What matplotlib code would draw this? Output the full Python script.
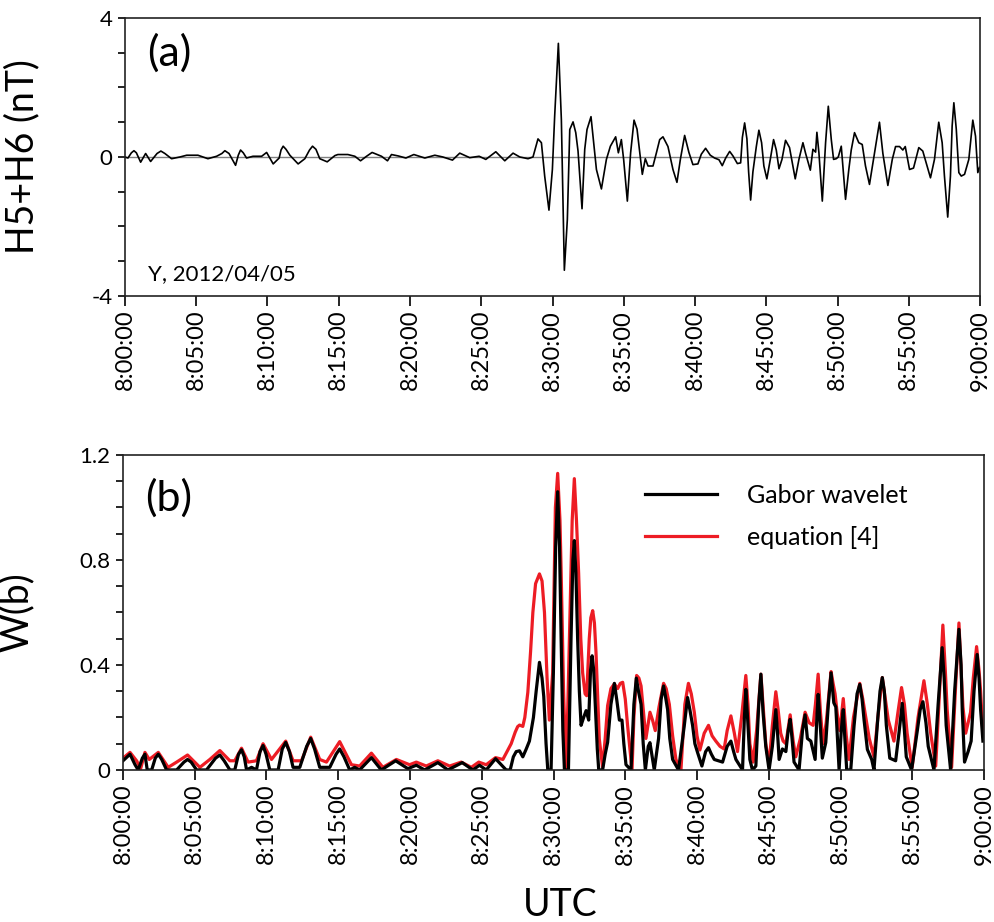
import numpy as np
import matplotlib.pyplot as plt

plt.rcParams['font.family'] = ['Lato', 'DejaVu Sans']

# panel (a): H5+H6, Y component, 2012/04/05 (minutes after 8:00, nT)
t_a = [0.0, 0.21, 0.45, 0.63, 0.8, 1.10, 1.45, 1.80, 2.25, 2.52, 2.8, 3.27, 3.86, 4.33, 5.12,
       5.82, 6.43, 6.8, 7.01, 7.3, 7.76, 7.95, 8.11, 8.3, 8.53, 8.98, 9.59, 9.94, 10.40,
       10.82, 10.95, 11.10, 11.3, 11.57, 12.15, 12.62, 12.95, 13.16, 13.4, 13.67, 14.19,
       14.73, 14.94, 15.64, 16.13, 16.53, 16.95, 17.34, 18.00, 18.42, 18.70, 19.17, 19.71,
       20.27, 21.04, 21.74, 22.30, 22.98, 23.49, 24.19, 24.85, 25.32, 26.02, 26.65, 27.23,
       27.70, 28.28, 28.63, 28.98, 29.22, 29.45, 29.75, 29.99, 30.15, 30.41, 30.62, 30.83,
       31.04, 31.21, 31.44, 31.63, 31.79, 32.07, 32.26, 32.42, 32.70, 32.84, 33.08, 33.43,
       33.78, 34.06, 34.43, 34.62, 34.83, 34.99, 35.25, 35.48, 35.72, 35.93, 36.12, 36.30,
       36.51, 36.70, 37.05, 37.29, 37.52, 37.75, 38.10, 38.45, 38.73, 38.97, 39.27, 39.57,
       39.85, 40.20, 40.44, 40.74, 41.07, 41.37, 41.68, 41.91, 42.15, 42.43, 42.66, 42.97,
       43.20, 43.32, 43.48, 43.64, 43.76, 43.90, 44.06, 44.30, 44.48, 44.67, 44.83, 45.04,
       45.28, 45.51, 45.70, 45.89, 46.10, 46.35, 46.63, 47.03, 47.29, 47.57, 47.76, 48.09,
       48.27, 48.46, 48.55, 48.69, 48.93, 49.16, 49.35, 49.56, 49.72, 49.91, 50.05, 50.26,
       50.37, 50.56, 50.79, 50.96, 51.19, 51.49, 51.73, 51.96, 52.24, 52.52, 52.94, 53.18,
       53.53, 53.84, 54.07, 54.35, 54.58, 54.75, 55.05, 55.33, 55.70, 55.98, 56.52, 56.80,
       57.10, 57.34, 57.50, 57.73, 57.92, 58.04, 58.16, 58.33, 58.51, 58.68, 58.91, 59.21,
       59.49, 59.68, 59.84, 59.96]
h56 = [0.0, -0.03, 0.12, 0.18, 0.12, -0.15, 0.10, -0.13, 0.10, 0.17, 0.10, -0.05, 0.0, 0.05,
       0.05, -0.05, 0.02, 0.10, 0.18, 0.10, -0.24, 0.05, 0.20, 0.12, -0.03, 0.02, 0.02, 0.13,
       -0.20, -0.03, 0.20, 0.31, 0.22, 0.05, -0.20, -0.05, 0.20, 0.31, 0.22, -0.05, -0.14,
       0.04, 0.07, 0.07, 0.02, -0.11, 0.02, 0.13, 0.02, -0.11, 0.07, 0.03, -0.03,
       0.07, -0.03, 0.05, 0.0, -0.09, 0.11, -0.02, 0.02, -0.07, 0.15, -0.11, 0.11,
       0.0, -0.05, 0.0, 0.52, 0.41, -0.55, -1.53, -0.36, 1.17, 3.27, 1.08, -3.26,
       -1.80, 0.79, 1.01, 0.70, 0.17, -1.49, 0.22, 0.79, 1.16, 0.60, -0.36, -0.92,
       -0.07, 0.31, 0.58, 0.12, 0.50, -0.07, -1.27, 0.12, 1.06, 0.80, 0.12, -0.50,
       -0.05, -0.26, -0.26, 0.12, 0.50, 0.58, 0.30, -0.36, -0.73, -0.07, 0.62, 0.13,
       -0.22, -0.20, 0.08, 0.25, 0.05, -0.03, -0.08, -0.25, -0.03, 0.16, 0.03, -0.19,
       -0.17, 0.56, 0.98, 0.52, -0.43, -1.24, -0.43, 0.30, 0.77, 0.41, -0.26, -0.63,
       -0.07, 0.50, 0.20, -0.34, -0.07, 0.48, 0.27, -0.63, -0.07, 0.41, 0.10, -0.38,
       0.22, 0.14, 0.71, 0.13, -1.27, 0.41, 1.46, 0.50, -0.07, -0.05, 0.0, 0.31,
       -0.26, -1.22, -0.36, 0.20, 0.70, 0.41, 0.36, -0.26, -0.79, -0.07, 1.00, 0.10,
       -0.82, -0.07, 0.30, 0.30, 0.20, 0.30, -0.36, -0.32, 0.27, 0.17, -0.60, -0.07,
       1.00, 0.41, -0.55, -1.73, -0.55, 0.89, 1.56, 0.80, -0.45, -0.55, -0.50, -0.07,
       1.06, 0.60, -0.45, -0.30]

# panel (b): W(b), Gabor wavelet
t_gabor = [0.0, 0.49, 0.84, 1.06, 1.35, 1.53, 1.69, 2.00, 2.25, 2.46, 2.7, 3.04, 3.74, 4.25,
           4.50, 4.75, 5.13, 5.82, 6.45, 6.75, 7.05, 7.45, 7.79, 8.05, 8.26, 8.45, 8.61, 8.96,
           9.30, 9.55, 9.76, 9.97, 10.23, 10.81, 11.1, 11.34, 11.6, 11.85, 12.32, 12.8, 13.08,
           13.35, 13.71, 14.41, 14.85, 15.10, 15.4, 15.80, 16.14, 16.49, 17.31, 18.00, 19.00,
           19.85, 20.44, 21.02, 21.94, 22.64, 23.64, 24.38, 24.84, 25.31, 25.96, 26.70, 26.98,
           27.2, 27.40, 27.63, 27.86, 28.1, 28.32, 28.6, 28.79, 29.02, 29.2, 29.32, 29.48,
           29.60, 29.83, 29.99, 30.15, 30.29, 30.42, 30.53, 30.65, 30.76, 31.04, 31.22, 31.35,
           31.45, 31.56, 31.68, 31.8, 31.92, 32.1, 32.27, 32.45, 32.58, 32.69, 32.8, 32.92,
           33.05, 33.15, 33.42, 33.6, 33.77, 34.0, 34.24, 34.4, 34.59, 34.77, 34.9, 35.05,
           35.40, 35.6, 35.77, 35.92, 36.10, 36.25, 36.40, 36.6, 36.72, 36.85, 37.02, 37.32,
           37.5, 37.67, 37.8, 37.95, 38.1, 38.30, 38.71, 39.11, 39.34, 39.5, 39.69, 39.85,
           40.04, 40.34, 40.6, 40.80, 41.0, 41.20, 41.78, 42.1, 42.36, 42.55, 42.71, 43.17,
           43.3, 43.40, 43.52, 43.68, 43.86, 44.10, 44.3, 44.45, 44.6, 44.79, 45.02, 45.25,
           45.49, 45.6, 45.72, 45.95, 46.19, 46.35, 46.49, 46.62, 46.76, 47.11, 47.35, 47.53,
           47.69, 47.93, 48.23, 48.35, 48.44, 48.55, 48.73, 48.97, 49.15, 49.34, 49.53, 49.67,
           49.90, 50.05, 50.19, 50.3, 50.43, 50.71, 50.94, 51.15, 51.34, 51.5, 51.64, 51.87,
           52.17, 52.33, 52.6, 52.75, 52.91, 53.05, 53.19, 53.43, 53.84, 54.07, 54.30, 54.45,
           54.58, 54.95, 55.35, 55.55, 55.74, 55.95, 56.11, 56.51, 56.8, 57.08, 57.22, 57.36,
           57.67, 57.95, 58.25, 58.4, 58.48, 58.64, 58.89, 59.1, 59.3, 59.52, 59.65, 59.76,
           59.92]
w_gabor = [0.035, 0.06, 0.02, 0.0, 0.045, 0.06, 0.0, 0.0, 0.045, 0.06, 0.04, 0.0, 0.0, 0.03,
           0.04, 0.03, 0.0, 0.0, 0.045, 0.057, 0.035, 0.0, 0.0, 0.06, 0.077, 0.05, 0.0, 0.01,
           0.0, 0.07, 0.093, 0.06, 0.0, 0.0, 0.08, 0.105, 0.07, 0.01, 0.01, 0.09, 0.12,
           0.08, 0.01, 0.01, 0.06, 0.08, 0.05, 0.0, 0.01, 0.0, 0.047, 0.0, 0.035,
           0.005, 0.018, 0.0, 0.028, 0.0, 0.028, 0.0, 0.018, 0.0, 0.043, 0.0, 0.0,
           0.05, 0.07, 0.073, 0.05, 0.08, 0.11, 0.2, 0.30, 0.41, 0.35, 0.28, 0.10,
           0.0, 0.0, 0.37, 0.85, 1.06, 0.85, 0.50, 0.15, 0.0, 0.0, 0.50, 0.80,
           0.874, 0.75, 0.50, 0.30, 0.17, 0.20, 0.226, 0.19, 0.38, 0.435, 0.38, 0.24,
           0.08, 0.0, 0.0, 0.06, 0.105, 0.25, 0.33, 0.27, 0.19, 0.19, 0.10, 0.02,
           0.0, 0.25, 0.35, 0.30, 0.25, 0.10, 0.0, 0.09, 0.104, 0.06, 0.0, 0.12,
           0.27, 0.32, 0.28, 0.23, 0.12, 0.04, 0.0, 0.168, 0.276, 0.23, 0.17, 0.10,
           0.066, 0.015, 0.07, 0.085, 0.06, 0.04, 0.03, 0.09, 0.11, 0.07, 0.04, 0.0,
           0.20, 0.307, 0.20, 0.04, 0.0, 0.015, 0.25, 0.365, 0.22, 0.09, 0.0, 0.09,
           0.23, 0.15, 0.04, 0.08, 0.07, 0.15, 0.193, 0.12, 0.03, 0.0, 0.15, 0.21,
           0.12, 0.11, 0.04, 0.20, 0.288, 0.20, 0.045, 0.104, 0.25, 0.37, 0.256, 0.24,
           0.0, 0.15, 0.23, 0.12, 0.0, 0.0, 0.167, 0.29, 0.326, 0.27, 0.19, 0.078,
           0.04, 0.0, 0.20, 0.30, 0.352, 0.30, 0.17, 0.045, 0.035, 0.14, 0.254, 0.15,
           0.05, 0.0, 0.15, 0.23, 0.26, 0.18, 0.09, 0.0, 0.25, 0.466, 0.35, 0.17,
           0.0, 0.30, 0.536, 0.40, 0.23, 0.03, 0.07, 0.11, 0.30, 0.44, 0.35, 0.23,
           0.11]

# panel (b): W(b), equation [4]
t_eq4 = [0.0, 0.49, 0.95, 1.23, 1.53, 1.83, 2.46, 3.15, 3.74, 4.50, 5.36, 6.05, 6.75, 7.45,
         7.79, 8.26, 8.72, 9.30, 9.76, 10.35, 11.34, 11.85, 12.44, 13.08, 13.71, 14.18, 15.10,
         15.92, 16.49, 17.31, 18.11, 19.05, 19.97, 20.44, 21.13, 21.94, 22.76, 23.57, 24.27,
         24.79, 25.31, 25.96, 26.47, 27.05, 27.33, 27.5, 27.63, 27.86, 28.0, 28.21, 28.4,
         28.56, 28.75, 29.02, 29.2, 29.37, 29.55, 29.71, 29.94, 30.13, 30.29, 30.45, 30.53,
         30.7, 30.88, 31.0, 31.16, 31.3, 31.45, 31.6, 31.75, 31.9, 32.03, 32.2, 32.31, 32.49,
         32.6, 32.73, 32.85, 32.96, 33.19, 33.42, 33.6, 33.77, 34.0, 34.24, 34.47, 34.65,
         34.82, 35.0, 35.16, 35.47, 35.6, 35.79, 35.95, 36.10, 36.3, 36.44, 36.58, 36.72,
         36.9, 37.09, 37.35, 37.67, 37.85, 38.07, 38.3, 38.53, 38.88, 39.15, 39.40, 39.6,
         39.81, 40.0, 40.20, 40.5, 40.80, 41.05, 41.31, 41.6, 41.89, 42.1, 42.36, 42.6, 42.82,
         43.1, 43.40, 43.55, 43.68, 43.91, 44.15, 44.45, 44.6, 44.79, 45.02, 45.25, 45.49,
         45.65, 45.83, 46.0, 46.19, 46.49, 46.7, 46.88, 47.2, 47.53, 47.81, 48.09, 48.25,
         48.44, 48.6, 48.78, 49.0, 49.34, 49.48, 49.62, 49.8, 49.95, 50.19, 50.4, 50.59, 50.9,
         51.34, 51.55, 51.76, 52.0, 52.33, 52.6, 52.91, 53.1, 53.33, 53.72, 54.0, 54.25,
         54.45, 54.64, 54.99, 55.4, 55.81, 56.05, 56.28, 56.63, 56.9, 57.13, 57.3, 57.43,
         57.74, 58.0, 58.25, 58.4, 58.53, 58.72, 59.06, 59.25, 59.48, 59.65, 59.76, 59.92]
w_eq4 = [0.045, 0.067, 0.035, 0.005, 0.067, 0.04, 0.067, 0.01, 0.03, 0.057, 0.01, 0.04, 0.074,
         0.035, 0.035, 0.083, 0.03, 0.035, 0.10, 0.04, 0.11, 0.035, 0.035, 0.125, 0.04, 0.03,
         0.108, 0.02, 0.015, 0.064, 0.01, 0.04, 0.02, 0.03, 0.015, 0.035, 0.015, 0.03, 0.01,
         0.03, 0.02, 0.047, 0.04, 0.10, 0.144, 0.165, 0.171, 0.166, 0.20, 0.296, 0.45,
         0.60, 0.71, 0.747, 0.72, 0.60, 0.35, 0.19, 0.37, 1.00, 1.13, 0.95, 0.76,
         0.30, 0.0, 0.25, 0.63, 0.95, 1.11, 0.95, 0.75, 0.50, 0.37, 0.29, 0.283, 0.50,
         0.58, 0.607, 0.56, 0.448, 0.118, 0.01, 0.12, 0.245, 0.31, 0.328, 0.31, 0.33,
         0.334, 0.27, 0.17, 0.0, 0.20, 0.36, 0.35, 0.32, 0.20, 0.12, 0.17, 0.22,
         0.19, 0.15, 0.24, 0.33, 0.31, 0.25, 0.13, 0.04, 0.0, 0.25, 0.33, 0.29,
         0.22, 0.13, 0.076, 0.14, 0.17, 0.13, 0.11, 0.09, 0.08, 0.15, 0.206, 0.14, 0.07,
         0.20, 0.36, 0.25, 0.10, 0.03, 0.15, 0.365, 0.25, 0.10, 0.02, 0.17, 0.298,
         0.23, 0.14, 0.11, 0.10, 0.21, 0.11, 0.05, 0.12, 0.22, 0.18, 0.17, 0.25,
         0.365, 0.22, 0.10, 0.18, 0.375, 0.33, 0.29, 0.20, 0.15, 0.272, 0.13, 0.04, 0.20,
         0.33, 0.27, 0.20, 0.12, 0.05, 0.20, 0.352, 0.28, 0.19, 0.11, 0.22, 0.314,
         0.25, 0.14, 0.01, 0.20, 0.34, 0.25, 0.14, 0.015, 0.30, 0.552, 0.38, 0.23,
         0.01, 0.30, 0.56, 0.38, 0.24, 0.14, 0.22, 0.35, 0.47, 0.38, 0.30, 0.14]

time_ticks = list(range(0, 61, 5))
time_labels = ['8:%02d:00' % m for m in range(0, 60, 5)] + ['9:00:00']

fig = plt.figure(figsize=(9.95, 9.22), dpi=100)
ax1 = fig.add_axes([0.1256, 0.679, 0.8594, 0.3015])
ax2 = fig.add_axes([0.1236, 0.1649, 0.8654, 0.3416])

# --- (a)
ax1.axhline(0, color='#808080', lw=1.0, zorder=1)
ax1.plot(t_a, h56, color='black', lw=1.2, zorder=2)
ax1.set_xlim(0, 60)
ax1.set_ylim(-4, 4)
ax1.set_yticks([-4, 0, 4])
ax1.set_yticklabels(['-4', '0', '4'])
ax1.set_yticks(np.arange(-4, 5, 1), minor=True)
ax1.set_ylabel('H5+H6 (nT)', fontsize=27)
ax1.yaxis.set_label_coords(-0.099, 0.5)
ax1.text(0.026, 0.875, '(a)', transform=ax1.transAxes, fontsize=31, va='center')
ax1.text(0.027, 0.08, 'Y, 2012/04/05', transform=ax1.transAxes, fontsize=16, va='center')

# --- (b)
ax2.plot(t_eq4, w_eq4, color='#ed1c24', lw=2.3, label='equation [4]')
ax2.plot(t_gabor, w_gabor, color='black', lw=2.3, label='Gabor wavelet')
ax2.set_xlim(0, 60)
ax2.set_ylim(0, 1.2)
ax2.set_yticks([0, 0.4, 0.8, 1.2])
ax2.set_yticklabels(['0', '0.4', '0.8', '1.2'])
ax2.set_yticks(np.arange(0, 1.25, 0.1), minor=True)
ax2.set_ylabel('W(b)', fontsize=27)
ax2.yaxis.set_label_coords(-0.102, 0.5)
ax2.text(0.026, 0.865, '(b)', transform=ax2.transAxes, fontsize=31, va='center')
h, l = ax2.get_legend_handles_labels()
ax2.legend(h[::-1], l[::-1], loc='upper left', bbox_to_anchor=(0.58, 0.98), frameon=False,
           fontsize=18, handlelength=2.9, handletextpad=1.2, labelspacing=0.75)
fig.text(560 / 995, 1 - 905 / 922, 'UTC', fontsize=27, ha='center', va='center')

for ax in (ax1, ax2):
    ax.set_xticks(time_ticks)
    ax.set_xticklabels(time_labels, rotation=90)
    ax.tick_params(which='both', direction='out', length=5, width=1.2, labelsize=16, pad=4)
    ax.tick_params(axis='x', length=7, labelsize=17, pad=3)
    for s in ax.spines.values():
        s.set_linewidth(1.2)
        s.set_color('#222222')

fig.savefig('out.png', dpi=100)
